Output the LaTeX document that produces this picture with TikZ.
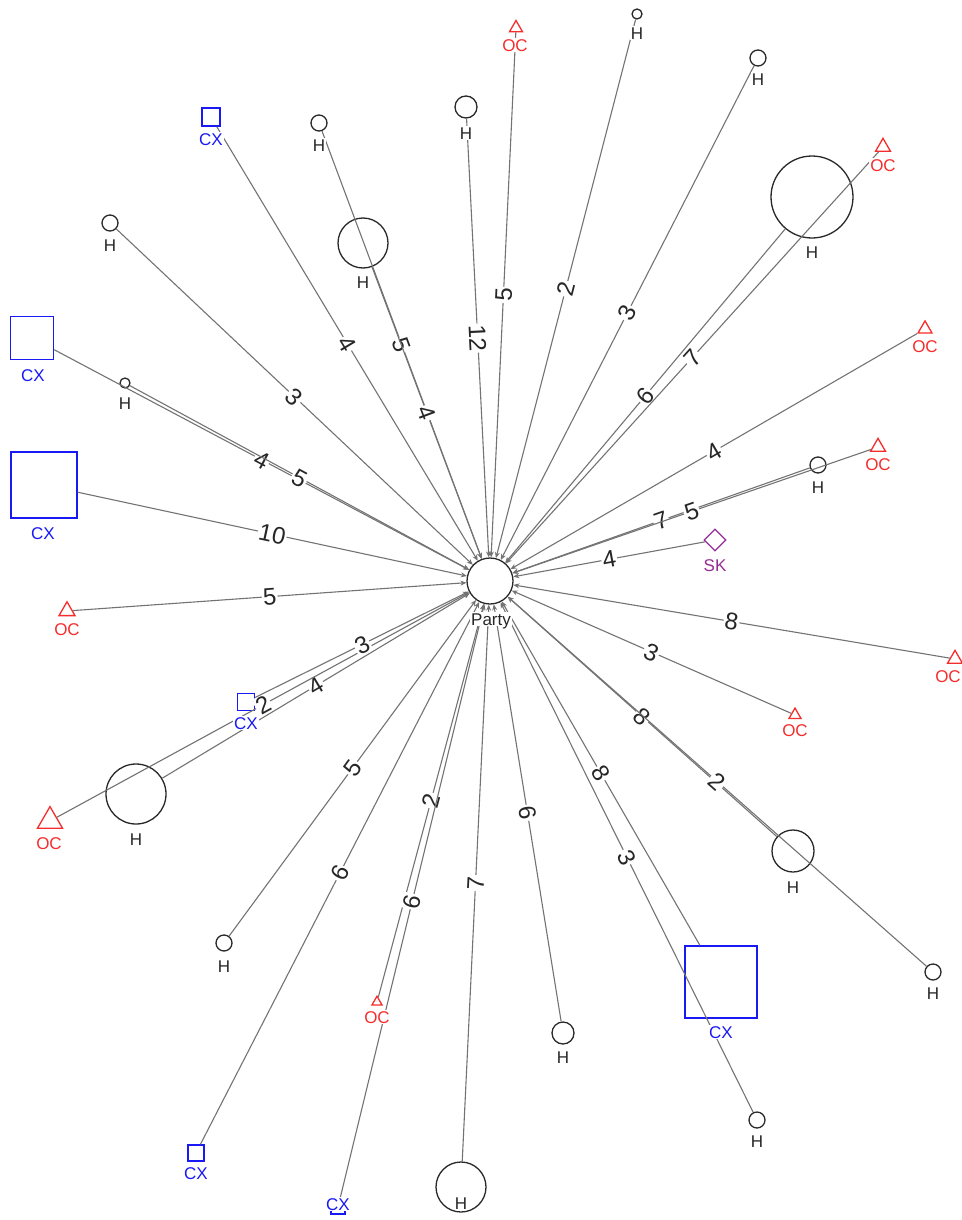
\documentclass[tikz,border=0pt]{standalone}
\usepackage{fontspec}
\setmainfont{Liberation Sans}
\usetikzlibrary{shapes.geometric,arrows.meta}
\definecolor{occol}{RGB}{245,45,45}
\definecolor{cxcol}{RGB}{25,25,245}
\definecolor{skcol}{RGB}{150,45,150}
\definecolor{hcol}{RGB}{40,40,40}
\definecolor{ecol}{RGB}{115,115,115}
\begin{document}
\begin{tikzpicture}[x=1pt,y=-1pt,
  hn/.style={circle,draw=hcol,line width=1.3pt,inner sep=0pt,minimum size=#1},
  ocn/.style={regular polygon,regular polygon sides=3,draw=occol,line width=1.3pt,inner sep=0pt,minimum size=1.155*#1},
  cxn/.style={rectangle,draw=cxcol,line width=1.5pt,inner sep=0pt,minimum size=#1},
  skn/.style={diamond,draw=skcol,line width=1.3pt,inner sep=0pt,minimum size=#1},
  lab/.style={font=\fontsize{17}{17}\selectfont,text height=12.2pt,text depth=0pt,inner sep=1pt,fill=white},
  hl/.style={lab,text=hcol},
  ocl/.style={lab,text=occol},
  cxl/.style={lab,text=cxcol},
  skl/.style={lab,text=skcol},
  conn/.style={draw=ecol,line width=1.1pt,-{Stealth[length=6pt,width=5pt]}},
  elab/.style={sloped,fill=white,inner sep=1.2pt,font=\fontsize{24}{24}\selectfont,text height=17pt,text depth=0pt,text=black!85}
]
\useasboundingbox (0,0) rectangle (961,1220);
% centre
\node[hn=46,fill=white] (party) at (490,581) {};
% outer shapes
\node[ocn=13] (oc1) at (516,28) {};
\node[hn=10] (h1) at (637,14) {};
\node[hn=16] (h2) at (758,58) {};
\node[hn=82] (hb1) at (812,197) {};
\node[ocn=15] (oc2) at (883,147) {};
\node[ocn=14] (oc3) at (925,329) {};
\node[hn=16] (h3) at (818,465) {};
\node[ocn=15] (oc4) at (878,447) {};
\node[skn=22] (sk) at (715,540) {};
\node[ocn=15] (oc5) at (955,659) {};
\node[ocn=12] (oc6) at (795,715) {};
\node[hn=42] (h4) at (793,851) {};
\node[hn=16] (h5) at (933,972) {};
\node[cxn=72] (cx1) at (721,982) {};
\node[hn=16] (h6) at (757,1120) {};
\node[hn=22] (h7) at (563,1033) {};
\node[hn=50] (hb2) at (461,1187) {};
\node[ocn=10] (oc7) at (377,1002) {};
\node[cxn=14] (cx2) at (338,1207) {};
\node[cxn=16] (cx3) at (196,1153) {};
\node[hn=16] (h8) at (224,943) {};
\node[hn=60] (hb3) at (136,794) {};
\node[ocn=25] (oc8) at (50,821) {};
\node[cxn=17] (cx4) at (246,702) {};
\node[ocn=16] (oc9) at (67,611) {};
\node[cxn=66] (cx5) at (44,485) {};
\node[cxn=43] (cx6) at (32,338) {};
\node[hn=10] (h9) at (125,383) {};
\node[hn=16] (h10) at (110,223) {};
\node[cxn=18] (cx7) at (211,117) {};
\node[hn=16] (h11) at (319,123) {};
\node[hn=50] (hb4) at (363,243) {};
\node[hn=22] (h12) at (466,107) {};
% connectors
\foreach \n/\w in {oc1/5,h1/2,h2/3,hb1/6,oc2/7,oc3/4,h3/7,oc4/5,sk/4,oc5/8,oc6/3,h4/8,h5/2,cx1/8,h6/3,h7/6,hb2/7,oc7/2,cx2/6,cx3/6,h8/5,hb3/4,oc8/2,cx4/3,oc9/5,cx5/10,cx6/4,h9/5,h10/3,cx7/4,h11/5,hb4/4,h12/12}
  \draw[conn] (\n) -- node[elab]{\w} (party);
% labels
\node[hl] (partyl) at (491,619) {Party};
\node[ocl] (oc1l) at (515,45) {OC};
\node[hl] (h1l) at (637,33) {H};
\node[hl] (h2l) at (758,79) {H};
\node[hl] (hb1l) at (812,252) {H};
\node[ocl] (oc2l) at (883,165) {OC};
\node[ocl] (oc3l) at (925,346) {OC};
\node[hl] (h3l) at (818,487) {H};
\node[ocl] (oc4l) at (878,464) {OC};
\node[skl] (skl) at (715,565) {SK};
\node[ocl] (oc5l) at (948,676) {OC};
\node[ocl] (oc6l) at (795,730) {OC};
\node[hl] (h4l) at (793,887) {H};
\node[hl] (h5l) at (933,993) {H};
\node[cxl] (cx1l) at (721,1032) {CX};
\node[hl] (h6l) at (757,1141) {H};
\node[hl] (h7l) at (563,1057) {H};
\node[hl] (hb2l) at (461,1203) {H};
\node[ocl] (oc7l) at (377,1017) {OC};
\node[cxl] (cx2l) at (338,1204) {CX};
\node[cxl] (cx3l) at (196,1173) {CX};
\node[hl] (h8l) at (224,966) {H};
\node[hl] (hb3l) at (136,839) {H};
\node[ocl] (oc8l) at (49,843) {OC};
\node[cxl] (cx4l) at (246,723) {CX};
\node[ocl] (oc9l) at (67,629) {OC};
\node[cxl] (cx5l) at (43,533) {CX};
\node[cxl] (cx6l) at (33,375) {CX};
\node[hl] (h9l) at (125,403) {H};
\node[hl] (h10l) at (110,245) {H};
\node[cxl] (cx7l) at (211,139) {CX};
\node[hl] (h11l) at (319,145) {H};
\node[hl] (hb4l) at (363,282) {H};
\node[hl] (h12l) at (466,133) {H};
\end{tikzpicture}
\end{document}
